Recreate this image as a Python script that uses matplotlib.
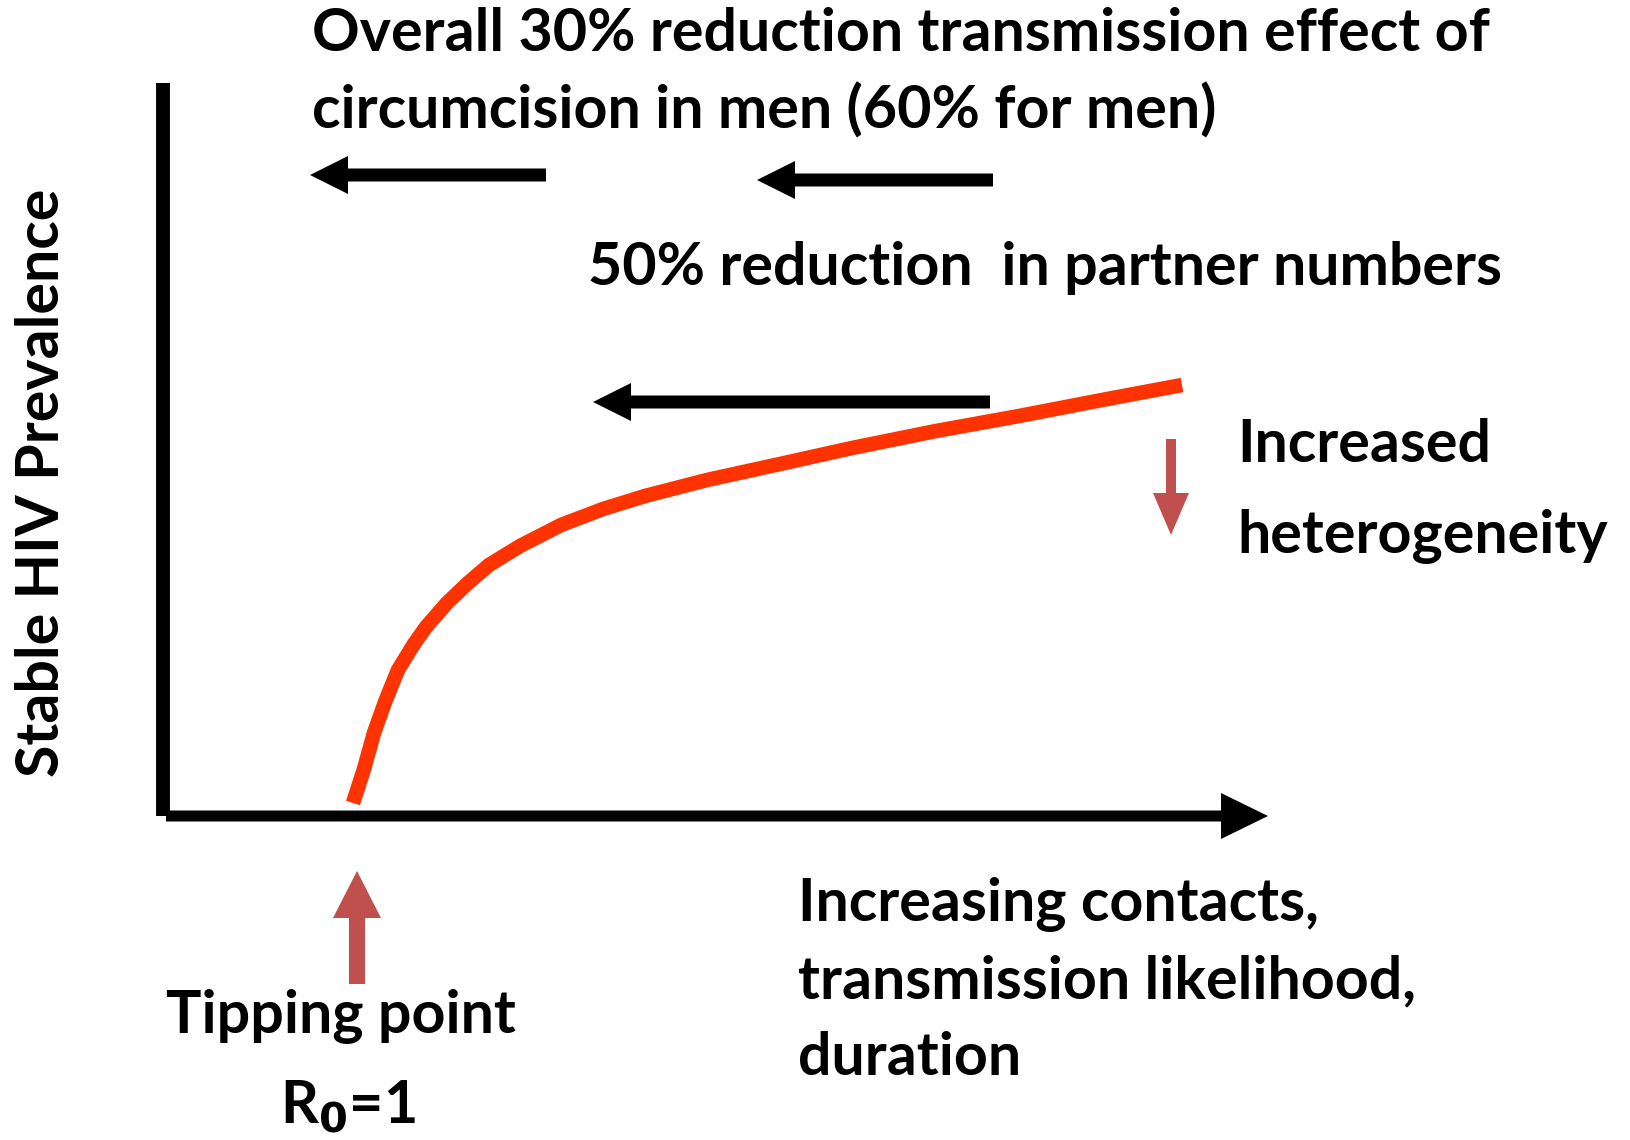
import matplotlib.pyplot as plt

plt.rcParams['font.family'] = ['Lato', 'DejaVu Sans']

# curve of stable prevalence (picture pixel units, y downwards)
curve_x = [353, 364, 374, 385, 398, 414, 426, 447, 468, 489, 520, 561, 603, 645,
           707, 780, 852, 936, 1019, 1102, 1182]
curve_y = [803, 769, 733, 702, 670, 644, 627, 603, 583, 565, 546, 525, 509, 496,
           480, 464, 448, 431, 416, 400, 385]

# black "shift" arrows: (tail x, tip x, y)
shift_arrows = [(546, 310, 175), (993, 757, 180), (990, 593, 402)]

top_lines = ["Overall 30% reduction transmission effect of",
             "circumcision in men (60% for men)"]
partner_text = "50% reduction  in partner numbers"
hetero_lines = ["Increased", "heterogeneity"]
xlabel_lines = ["Increasing contacts,", "transmission likelihood,", "duration"]
ylabel = "Stable HIV Prevalence"

red = '#C0504D'
fs = 42.6

fig = plt.figure(figsize=(16.3, 11.4), dpi=100)
ax = fig.add_axes([0, 0, 1, 1])
ax.set_xlim(0, 1630)
ax.set_ylim(1140, 0)
ax.axis('off')

# axes of the diagram
ax.plot([163, 163], [83, 816], color='k', lw=10, solid_capstyle='butt')
ax.arrow(166, 816, 1055, 0, width=11, head_width=46, head_length=47,
         length_includes_head=False, color='k', lw=0)

ax.plot(curve_x, curve_y, color='#FF3300', lw=10.5, solid_capstyle='butt',
        solid_joinstyle='round')

for tail, tip, y in shift_arrows:
    ax.arrow(tail, y, tip - tail, 0, width=13, head_width=38, head_length=38,
             length_includes_head=True, color='k', lw=0)

# heterogeneity arrow and tipping point arrow
ax.arrow(1171, 439, 0, 96, width=10, head_width=36, head_length=42,
         length_includes_head=True, color=red, lw=0)
ax.arrow(357, 984, 0, -113, width=16, head_width=48, head_length=47,
         length_includes_head=True, color=red, lw=0)

kw = dict(fontsize=fs, fontweight='bold', color='k', va='center')
ax.text(312, 34, top_lines[0], ha='left', **kw)
ax.text(312, 111, top_lines[1], ha='left', **kw)
ax.text(588, 268, partner_text, ha='left', **kw)
ax.text(1237, 445, hetero_lines[0], ha='left', **kw)
ax.text(1237, 537, hetero_lines[1], ha='left', **kw)
for i, line in enumerate(xlabel_lines):
    ax.text(798, 904 + i * 77, line, ha='left', **kw)
ax.text(341, 1016, "Tipping point", ha='center', **kw)
ax.text(348, 1107, r"R$_\mathbf{0}$=1", ha='center', **kw)
ax.text(42, 483, ylabel, ha='center', rotation=90, **kw)

fig.savefig('out.png', dpi=100)
